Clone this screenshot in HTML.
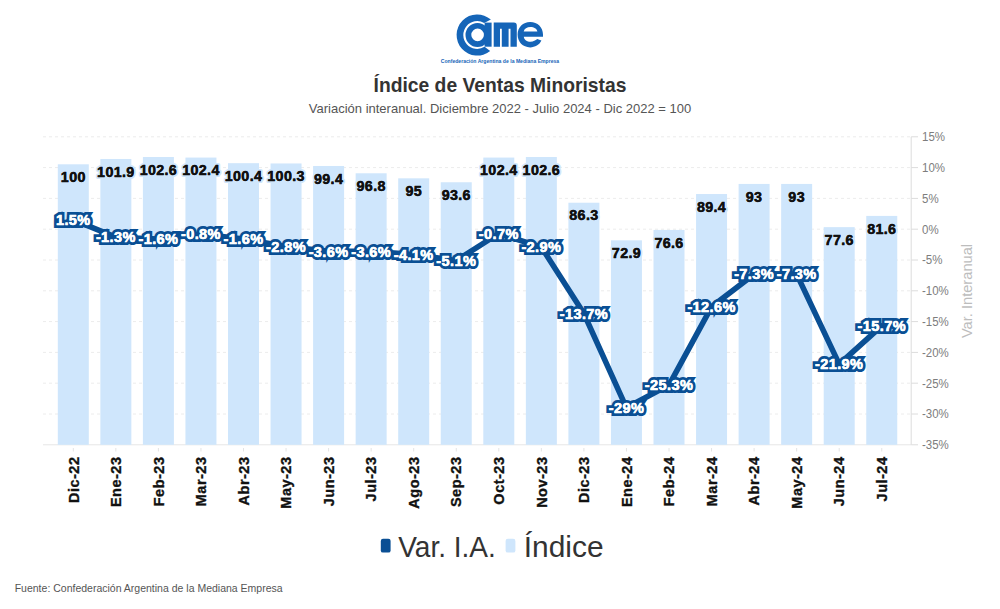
<!DOCTYPE html><html><head><meta charset="utf-8"><style>
html,body{margin:0;padding:0;background:#fff;width:1000px;height:609px;overflow:hidden}
svg{display:block}text{font-family:"Liberation Sans",sans-serif}
</style></head><body>
<svg width="1000" height="609" viewBox="0 0 1000 609">
<rect width="1000" height="609" fill="#fff"/>
<g fill="#1565b8">
<path d="M490.90 19.62 A20.60 20.60 0 1 0 490.16 51.01 L484.57 46.79 A13.90 13.90 0 1 1 484.15 22.96 Z"/>
<path fill-rule="evenodd" d="M465.50 35.10 A12.00 12.00 0 1 0 489.50 35.10 A12.00 12.00 0 1 0 465.50 35.10 Z M471.30 34.90 A6.30 6.30 0 1 0 483.90 34.90 A6.30 6.30 0 1 0 471.30 34.90 Z"/>
<rect x="484.6" y="22.6" width="7.0" height="24.1"/>
<path d="M493.7 22.6 H513.8 Q516.8 22.6 516.8 25.6 V46.7 H510.5 V28.8 H508.6 V46.7 H501.8 V28.8 H500 V46.7 H493.7 Z"/>
<path fill-rule="evenodd" d="M543 36.7 L523.8 36.7 C524.3 40 527 41.7 530.5 41.7 C533.5 41.7 535.5 40.6 537.2 39.1 L541.4 40.6 C539.5 45 535 47.4 530.2 47.4 C522.7 47.4 517.6 42 517.6 34.6 C517.6 27.2 523 21.9 530.2 21.9 C537.6 21.9 543 27.2 543 34.6 Z M523.7 31.4 L537.4 31.4 C536.8 28.5 534 26.9 530.5 26.9 C527 26.9 524.3 28.5 523.7 31.4 Z"/>
</g>
<text x="500" y="63" text-anchor="middle" font-size="5.1" font-weight="bold" fill="#1565b8">Confederación Argentina de la Mediana Empresa</text>
<text x="500" y="92" text-anchor="middle" font-size="19.3" font-weight="bold" fill="#333">Índice de Ventas Minoristas</text>
<text x="500" y="113" text-anchor="middle" font-size="13" fill="#555">Variación interanual. Diciembre 2022 - Julio 2024 - Dic 2022 = 100</text>
<line x1="43" y1="136.80" x2="911" y2="136.80" stroke="#ececec" stroke-width="1" stroke-dasharray="3,3"/>
<line x1="43" y1="167.60" x2="911" y2="167.60" stroke="#ececec" stroke-width="1" stroke-dasharray="3,3"/>
<line x1="43" y1="198.40" x2="911" y2="198.40" stroke="#ececec" stroke-width="1" stroke-dasharray="3,3"/>
<line x1="43" y1="229.20" x2="911" y2="229.20" stroke="#ececec" stroke-width="1" stroke-dasharray="3,3"/>
<line x1="43" y1="260.00" x2="911" y2="260.00" stroke="#ececec" stroke-width="1" stroke-dasharray="3,3"/>
<line x1="43" y1="290.80" x2="911" y2="290.80" stroke="#ececec" stroke-width="1" stroke-dasharray="3,3"/>
<line x1="43" y1="321.60" x2="911" y2="321.60" stroke="#ececec" stroke-width="1" stroke-dasharray="3,3"/>
<line x1="43" y1="352.40" x2="911" y2="352.40" stroke="#ececec" stroke-width="1" stroke-dasharray="3,3"/>
<line x1="43" y1="383.20" x2="911" y2="383.20" stroke="#ececec" stroke-width="1" stroke-dasharray="3,3"/>
<line x1="43" y1="414.00" x2="911" y2="414.00" stroke="#ececec" stroke-width="1" stroke-dasharray="3,3"/>
<line x1="43" y1="444.80" x2="911" y2="444.80" stroke="#e6e6e6" stroke-width="1"/>
<rect x="57.80" y="164.30" width="31.00" height="280.50" fill="#cfe6fc"/>
<rect x="100.35" y="158.97" width="31.00" height="285.83" fill="#cfe6fc"/>
<rect x="142.90" y="157.01" width="31.00" height="287.79" fill="#cfe6fc"/>
<rect x="185.45" y="157.57" width="31.00" height="287.23" fill="#cfe6fc"/>
<rect x="228.00" y="163.18" width="31.00" height="281.62" fill="#cfe6fc"/>
<rect x="270.55" y="163.46" width="31.00" height="281.34" fill="#cfe6fc"/>
<rect x="313.10" y="165.98" width="31.00" height="278.82" fill="#cfe6fc"/>
<rect x="355.65" y="173.28" width="31.00" height="271.52" fill="#cfe6fc"/>
<rect x="398.20" y="178.32" width="31.00" height="266.48" fill="#cfe6fc"/>
<rect x="440.75" y="182.25" width="31.00" height="262.55" fill="#cfe6fc"/>
<rect x="483.30" y="157.57" width="31.00" height="287.23" fill="#cfe6fc"/>
<rect x="525.85" y="157.01" width="31.00" height="287.79" fill="#cfe6fc"/>
<rect x="568.40" y="202.73" width="31.00" height="242.07" fill="#cfe6fc"/>
<rect x="610.95" y="240.32" width="31.00" height="204.48" fill="#cfe6fc"/>
<rect x="653.50" y="229.94" width="31.00" height="214.86" fill="#cfe6fc"/>
<rect x="696.05" y="194.03" width="31.00" height="250.77" fill="#cfe6fc"/>
<rect x="738.60" y="183.94" width="31.00" height="260.87" fill="#cfe6fc"/>
<rect x="781.15" y="183.94" width="31.00" height="260.87" fill="#cfe6fc"/>
<rect x="823.70" y="227.13" width="31.00" height="217.67" fill="#cfe6fc"/>
<rect x="866.25" y="215.91" width="31.00" height="228.89" fill="#cfe6fc"/>
<line x1="911.2" y1="136.8" x2="911.2" y2="444.8" stroke="#dcdcdc" stroke-width="1"/>
<line x1="911.2" y1="136.80" x2="918" y2="136.80" stroke="#dcdcdc" stroke-width="1"/>
<text x="922" y="141.20" font-size="12.3" textLength="23.02" lengthAdjust="spacingAndGlyphs" fill="#7d7d7d">15%</text>
<line x1="911.2" y1="167.60" x2="918" y2="167.60" stroke="#dcdcdc" stroke-width="1"/>
<text x="922" y="172.00" font-size="12.3" textLength="23.02" lengthAdjust="spacingAndGlyphs" fill="#7d7d7d">10%</text>
<line x1="911.2" y1="198.40" x2="918" y2="198.40" stroke="#dcdcdc" stroke-width="1"/>
<text x="922" y="202.80" font-size="12.3" textLength="16.62" lengthAdjust="spacingAndGlyphs" fill="#7d7d7d">5%</text>
<line x1="911.2" y1="229.20" x2="918" y2="229.20" stroke="#dcdcdc" stroke-width="1"/>
<text x="922" y="233.60" font-size="12.3" textLength="16.62" lengthAdjust="spacingAndGlyphs" fill="#7d7d7d">0%</text>
<line x1="911.2" y1="260.00" x2="918" y2="260.00" stroke="#dcdcdc" stroke-width="1"/>
<text x="922" y="264.40" font-size="12.3" textLength="20.45" lengthAdjust="spacingAndGlyphs" fill="#7d7d7d">-5%</text>
<line x1="911.2" y1="290.80" x2="918" y2="290.80" stroke="#dcdcdc" stroke-width="1"/>
<text x="922" y="295.20" font-size="12.3" textLength="26.85" lengthAdjust="spacingAndGlyphs" fill="#7d7d7d">-10%</text>
<line x1="911.2" y1="321.60" x2="918" y2="321.60" stroke="#dcdcdc" stroke-width="1"/>
<text x="922" y="326.00" font-size="12.3" textLength="26.85" lengthAdjust="spacingAndGlyphs" fill="#7d7d7d">-15%</text>
<line x1="911.2" y1="352.40" x2="918" y2="352.40" stroke="#dcdcdc" stroke-width="1"/>
<text x="922" y="356.80" font-size="12.3" textLength="26.85" lengthAdjust="spacingAndGlyphs" fill="#7d7d7d">-20%</text>
<line x1="911.2" y1="383.20" x2="918" y2="383.20" stroke="#dcdcdc" stroke-width="1"/>
<text x="922" y="387.60" font-size="12.3" textLength="26.85" lengthAdjust="spacingAndGlyphs" fill="#7d7d7d">-25%</text>
<line x1="911.2" y1="414.00" x2="918" y2="414.00" stroke="#dcdcdc" stroke-width="1"/>
<text x="922" y="418.40" font-size="12.3" textLength="26.85" lengthAdjust="spacingAndGlyphs" fill="#7d7d7d">-30%</text>
<line x1="911.2" y1="444.80" x2="918" y2="444.80" stroke="#dcdcdc" stroke-width="1"/>
<text x="922" y="449.20" font-size="12.3" textLength="26.85" lengthAdjust="spacingAndGlyphs" fill="#7d7d7d">-35%</text>
<text transform="translate(971.5,291) rotate(-90)" text-anchor="middle" font-size="14.65" fill="#bdbdbd">Var. Interanual</text>
<line x1="73.30" y1="448" x2="73.30" y2="451.5" stroke="#e4e4e4" stroke-width="1"/>
<text transform="translate(78.50,456.5) rotate(-90)" text-anchor="end" font-size="14.5" font-weight="bold" letter-spacing="0.5" fill="#111" stroke="#111" stroke-width="0.35">Dic-22</text>
<line x1="115.85" y1="448" x2="115.85" y2="451.5" stroke="#e4e4e4" stroke-width="1"/>
<text transform="translate(121.05,456.5) rotate(-90)" text-anchor="end" font-size="14.5" font-weight="bold" letter-spacing="0.5" fill="#111" stroke="#111" stroke-width="0.35">Ene-23</text>
<line x1="158.40" y1="448" x2="158.40" y2="451.5" stroke="#e4e4e4" stroke-width="1"/>
<text transform="translate(163.60,456.5) rotate(-90)" text-anchor="end" font-size="14.5" font-weight="bold" letter-spacing="0.5" fill="#111" stroke="#111" stroke-width="0.35">Feb-23</text>
<line x1="200.95" y1="448" x2="200.95" y2="451.5" stroke="#e4e4e4" stroke-width="1"/>
<text transform="translate(206.15,456.5) rotate(-90)" text-anchor="end" font-size="14.5" font-weight="bold" letter-spacing="0.5" fill="#111" stroke="#111" stroke-width="0.35">Mar-23</text>
<line x1="243.50" y1="448" x2="243.50" y2="451.5" stroke="#e4e4e4" stroke-width="1"/>
<text transform="translate(248.70,456.5) rotate(-90)" text-anchor="end" font-size="14.5" font-weight="bold" letter-spacing="0.5" fill="#111" stroke="#111" stroke-width="0.35">Abr-23</text>
<line x1="286.05" y1="448" x2="286.05" y2="451.5" stroke="#e4e4e4" stroke-width="1"/>
<text transform="translate(291.25,456.5) rotate(-90)" text-anchor="end" font-size="14.5" font-weight="bold" letter-spacing="0.5" fill="#111" stroke="#111" stroke-width="0.35">May-23</text>
<line x1="328.60" y1="448" x2="328.60" y2="451.5" stroke="#e4e4e4" stroke-width="1"/>
<text transform="translate(333.80,456.5) rotate(-90)" text-anchor="end" font-size="14.5" font-weight="bold" letter-spacing="0.5" fill="#111" stroke="#111" stroke-width="0.35">Jun-23</text>
<line x1="371.15" y1="448" x2="371.15" y2="451.5" stroke="#e4e4e4" stroke-width="1"/>
<text transform="translate(376.35,456.5) rotate(-90)" text-anchor="end" font-size="14.5" font-weight="bold" letter-spacing="0.5" fill="#111" stroke="#111" stroke-width="0.35">Jul-23</text>
<line x1="413.70" y1="448" x2="413.70" y2="451.5" stroke="#e4e4e4" stroke-width="1"/>
<text transform="translate(418.90,456.5) rotate(-90)" text-anchor="end" font-size="14.5" font-weight="bold" letter-spacing="0.5" fill="#111" stroke="#111" stroke-width="0.35">Ago-23</text>
<line x1="456.25" y1="448" x2="456.25" y2="451.5" stroke="#e4e4e4" stroke-width="1"/>
<text transform="translate(461.45,456.5) rotate(-90)" text-anchor="end" font-size="14.5" font-weight="bold" letter-spacing="0.5" fill="#111" stroke="#111" stroke-width="0.35">Sep-23</text>
<line x1="498.80" y1="448" x2="498.80" y2="451.5" stroke="#e4e4e4" stroke-width="1"/>
<text transform="translate(504.00,456.5) rotate(-90)" text-anchor="end" font-size="14.5" font-weight="bold" letter-spacing="0.5" fill="#111" stroke="#111" stroke-width="0.35">Oct-23</text>
<line x1="541.35" y1="448" x2="541.35" y2="451.5" stroke="#e4e4e4" stroke-width="1"/>
<text transform="translate(546.55,456.5) rotate(-90)" text-anchor="end" font-size="14.5" font-weight="bold" letter-spacing="0.5" fill="#111" stroke="#111" stroke-width="0.35">Nov-23</text>
<line x1="583.90" y1="448" x2="583.90" y2="451.5" stroke="#e4e4e4" stroke-width="1"/>
<text transform="translate(589.10,456.5) rotate(-90)" text-anchor="end" font-size="14.5" font-weight="bold" letter-spacing="0.5" fill="#111" stroke="#111" stroke-width="0.35">Dic-23</text>
<line x1="626.45" y1="448" x2="626.45" y2="451.5" stroke="#e4e4e4" stroke-width="1"/>
<text transform="translate(631.65,456.5) rotate(-90)" text-anchor="end" font-size="14.5" font-weight="bold" letter-spacing="0.5" fill="#111" stroke="#111" stroke-width="0.35">Ene-24</text>
<line x1="669.00" y1="448" x2="669.00" y2="451.5" stroke="#e4e4e4" stroke-width="1"/>
<text transform="translate(674.20,456.5) rotate(-90)" text-anchor="end" font-size="14.5" font-weight="bold" letter-spacing="0.5" fill="#111" stroke="#111" stroke-width="0.35">Feb-24</text>
<line x1="711.55" y1="448" x2="711.55" y2="451.5" stroke="#e4e4e4" stroke-width="1"/>
<text transform="translate(716.75,456.5) rotate(-90)" text-anchor="end" font-size="14.5" font-weight="bold" letter-spacing="0.5" fill="#111" stroke="#111" stroke-width="0.35">Mar-24</text>
<line x1="754.10" y1="448" x2="754.10" y2="451.5" stroke="#e4e4e4" stroke-width="1"/>
<text transform="translate(759.30,456.5) rotate(-90)" text-anchor="end" font-size="14.5" font-weight="bold" letter-spacing="0.5" fill="#111" stroke="#111" stroke-width="0.35">Abr-24</text>
<line x1="796.65" y1="448" x2="796.65" y2="451.5" stroke="#e4e4e4" stroke-width="1"/>
<text transform="translate(801.85,456.5) rotate(-90)" text-anchor="end" font-size="14.5" font-weight="bold" letter-spacing="0.5" fill="#111" stroke="#111" stroke-width="0.35">May-24</text>
<line x1="839.20" y1="448" x2="839.20" y2="451.5" stroke="#e4e4e4" stroke-width="1"/>
<text transform="translate(844.40,456.5) rotate(-90)" text-anchor="end" font-size="14.5" font-weight="bold" letter-spacing="0.5" fill="#111" stroke="#111" stroke-width="0.35">Jun-24</text>
<line x1="881.75" y1="448" x2="881.75" y2="451.5" stroke="#e4e4e4" stroke-width="1"/>
<text transform="translate(886.95,456.5) rotate(-90)" text-anchor="end" font-size="14.5" font-weight="bold" letter-spacing="0.5" fill="#111" stroke="#111" stroke-width="0.35">Jul-24</text>
<text x="73.30" y="181.90" text-anchor="middle" font-size="14.3" font-weight="bold" letter-spacing="0.35" fill="#111" stroke="#cfe6fc" stroke-width="4" stroke-linejoin="round" paint-order="stroke">100</text>
<text x="73.30" y="181.90" text-anchor="middle" font-size="14.3" font-weight="bold" letter-spacing="0.35" fill="#111" stroke="#111" stroke-width="0.35">100</text>
<text x="115.85" y="176.57" text-anchor="middle" font-size="14.3" font-weight="bold" letter-spacing="0.35" fill="#111" stroke="#cfe6fc" stroke-width="4" stroke-linejoin="round" paint-order="stroke">101.9</text>
<text x="115.85" y="176.57" text-anchor="middle" font-size="14.3" font-weight="bold" letter-spacing="0.35" fill="#111" stroke="#111" stroke-width="0.35">101.9</text>
<text x="158.40" y="174.61" text-anchor="middle" font-size="14.3" font-weight="bold" letter-spacing="0.35" fill="#111" stroke="#cfe6fc" stroke-width="4" stroke-linejoin="round" paint-order="stroke">102.6</text>
<text x="158.40" y="174.61" text-anchor="middle" font-size="14.3" font-weight="bold" letter-spacing="0.35" fill="#111" stroke="#111" stroke-width="0.35">102.6</text>
<text x="200.95" y="175.17" text-anchor="middle" font-size="14.3" font-weight="bold" letter-spacing="0.35" fill="#111" stroke="#cfe6fc" stroke-width="4" stroke-linejoin="round" paint-order="stroke">102.4</text>
<text x="200.95" y="175.17" text-anchor="middle" font-size="14.3" font-weight="bold" letter-spacing="0.35" fill="#111" stroke="#111" stroke-width="0.35">102.4</text>
<text x="243.50" y="180.78" text-anchor="middle" font-size="14.3" font-weight="bold" letter-spacing="0.35" fill="#111" stroke="#cfe6fc" stroke-width="4" stroke-linejoin="round" paint-order="stroke">100.4</text>
<text x="243.50" y="180.78" text-anchor="middle" font-size="14.3" font-weight="bold" letter-spacing="0.35" fill="#111" stroke="#111" stroke-width="0.35">100.4</text>
<text x="286.05" y="181.06" text-anchor="middle" font-size="14.3" font-weight="bold" letter-spacing="0.35" fill="#111" stroke="#cfe6fc" stroke-width="4" stroke-linejoin="round" paint-order="stroke">100.3</text>
<text x="286.05" y="181.06" text-anchor="middle" font-size="14.3" font-weight="bold" letter-spacing="0.35" fill="#111" stroke="#111" stroke-width="0.35">100.3</text>
<text x="328.60" y="183.58" text-anchor="middle" font-size="14.3" font-weight="bold" letter-spacing="0.35" fill="#111" stroke="#cfe6fc" stroke-width="4" stroke-linejoin="round" paint-order="stroke">99.4</text>
<text x="328.60" y="183.58" text-anchor="middle" font-size="14.3" font-weight="bold" letter-spacing="0.35" fill="#111" stroke="#111" stroke-width="0.35">99.4</text>
<text x="371.15" y="190.88" text-anchor="middle" font-size="14.3" font-weight="bold" letter-spacing="0.35" fill="#111" stroke="#cfe6fc" stroke-width="4" stroke-linejoin="round" paint-order="stroke">96.8</text>
<text x="371.15" y="190.88" text-anchor="middle" font-size="14.3" font-weight="bold" letter-spacing="0.35" fill="#111" stroke="#111" stroke-width="0.35">96.8</text>
<text x="413.70" y="195.92" text-anchor="middle" font-size="14.3" font-weight="bold" letter-spacing="0.35" fill="#111" stroke="#cfe6fc" stroke-width="4" stroke-linejoin="round" paint-order="stroke">95</text>
<text x="413.70" y="195.92" text-anchor="middle" font-size="14.3" font-weight="bold" letter-spacing="0.35" fill="#111" stroke="#111" stroke-width="0.35">95</text>
<text x="456.25" y="199.85" text-anchor="middle" font-size="14.3" font-weight="bold" letter-spacing="0.35" fill="#111" stroke="#cfe6fc" stroke-width="4" stroke-linejoin="round" paint-order="stroke">93.6</text>
<text x="456.25" y="199.85" text-anchor="middle" font-size="14.3" font-weight="bold" letter-spacing="0.35" fill="#111" stroke="#111" stroke-width="0.35">93.6</text>
<text x="498.80" y="175.17" text-anchor="middle" font-size="14.3" font-weight="bold" letter-spacing="0.35" fill="#111" stroke="#cfe6fc" stroke-width="4" stroke-linejoin="round" paint-order="stroke">102.4</text>
<text x="498.80" y="175.17" text-anchor="middle" font-size="14.3" font-weight="bold" letter-spacing="0.35" fill="#111" stroke="#111" stroke-width="0.35">102.4</text>
<text x="541.35" y="174.61" text-anchor="middle" font-size="14.3" font-weight="bold" letter-spacing="0.35" fill="#111" stroke="#cfe6fc" stroke-width="4" stroke-linejoin="round" paint-order="stroke">102.6</text>
<text x="541.35" y="174.61" text-anchor="middle" font-size="14.3" font-weight="bold" letter-spacing="0.35" fill="#111" stroke="#111" stroke-width="0.35">102.6</text>
<text x="583.90" y="220.33" text-anchor="middle" font-size="14.3" font-weight="bold" letter-spacing="0.35" fill="#111" stroke="#cfe6fc" stroke-width="4" stroke-linejoin="round" paint-order="stroke">86.3</text>
<text x="583.90" y="220.33" text-anchor="middle" font-size="14.3" font-weight="bold" letter-spacing="0.35" fill="#111" stroke="#111" stroke-width="0.35">86.3</text>
<text x="626.45" y="257.92" text-anchor="middle" font-size="14.3" font-weight="bold" letter-spacing="0.35" fill="#111" stroke="#cfe6fc" stroke-width="4" stroke-linejoin="round" paint-order="stroke">72.9</text>
<text x="626.45" y="257.92" text-anchor="middle" font-size="14.3" font-weight="bold" letter-spacing="0.35" fill="#111" stroke="#111" stroke-width="0.35">72.9</text>
<text x="669.00" y="247.54" text-anchor="middle" font-size="14.3" font-weight="bold" letter-spacing="0.35" fill="#111" stroke="#cfe6fc" stroke-width="4" stroke-linejoin="round" paint-order="stroke">76.6</text>
<text x="669.00" y="247.54" text-anchor="middle" font-size="14.3" font-weight="bold" letter-spacing="0.35" fill="#111" stroke="#111" stroke-width="0.35">76.6</text>
<text x="711.55" y="211.63" text-anchor="middle" font-size="14.3" font-weight="bold" letter-spacing="0.35" fill="#111" stroke="#cfe6fc" stroke-width="4" stroke-linejoin="round" paint-order="stroke">89.4</text>
<text x="711.55" y="211.63" text-anchor="middle" font-size="14.3" font-weight="bold" letter-spacing="0.35" fill="#111" stroke="#111" stroke-width="0.35">89.4</text>
<text x="754.10" y="201.53" text-anchor="middle" font-size="14.3" font-weight="bold" letter-spacing="0.35" fill="#111" stroke="#cfe6fc" stroke-width="4" stroke-linejoin="round" paint-order="stroke">93</text>
<text x="754.10" y="201.53" text-anchor="middle" font-size="14.3" font-weight="bold" letter-spacing="0.35" fill="#111" stroke="#111" stroke-width="0.35">93</text>
<text x="796.65" y="201.53" text-anchor="middle" font-size="14.3" font-weight="bold" letter-spacing="0.35" fill="#111" stroke="#cfe6fc" stroke-width="4" stroke-linejoin="round" paint-order="stroke">93</text>
<text x="796.65" y="201.53" text-anchor="middle" font-size="14.3" font-weight="bold" letter-spacing="0.35" fill="#111" stroke="#111" stroke-width="0.35">93</text>
<text x="839.20" y="244.73" text-anchor="middle" font-size="14.3" font-weight="bold" letter-spacing="0.35" fill="#111" stroke="#cfe6fc" stroke-width="4" stroke-linejoin="round" paint-order="stroke">77.6</text>
<text x="839.20" y="244.73" text-anchor="middle" font-size="14.3" font-weight="bold" letter-spacing="0.35" fill="#111" stroke="#111" stroke-width="0.35">77.6</text>
<text x="881.75" y="233.51" text-anchor="middle" font-size="14.3" font-weight="bold" letter-spacing="0.35" fill="#111" stroke="#cfe6fc" stroke-width="4" stroke-linejoin="round" paint-order="stroke">81.6</text>
<text x="881.75" y="233.51" text-anchor="middle" font-size="14.3" font-weight="bold" letter-spacing="0.35" fill="#111" stroke="#111" stroke-width="0.35">81.6</text>
<polyline points="73.30,219.96 115.85,237.21 158.40,239.06 200.95,234.13 243.50,239.06 286.05,246.45 328.60,251.38 371.15,251.38 413.70,254.46 456.25,260.62 498.80,233.51 541.35,247.06 583.90,313.59 626.45,407.84 669.00,385.05 711.55,306.82 754.10,274.17 796.65,274.17 839.20,364.10 881.75,325.91" fill="none" stroke="#0a4f94" stroke-width="5.6" stroke-linejoin="round" stroke-linecap="round"/>
<text x="73.30" y="225.16" text-anchor="middle" font-size="14.5" font-weight="bold" letter-spacing="0.4" fill="#fff" stroke="#0a4f94" stroke-width="6" stroke-linejoin="miter" paint-order="stroke">1.5%</text>
<text x="73.30" y="225.16" text-anchor="middle" font-size="14.5" font-weight="bold" letter-spacing="0.4" fill="#fff" stroke="#fff" stroke-width="0.45">1.5%</text>
<text x="115.85" y="242.41" text-anchor="middle" font-size="14.5" font-weight="bold" letter-spacing="0.4" fill="#fff" stroke="#0a4f94" stroke-width="6" stroke-linejoin="miter" paint-order="stroke">-1.3%</text>
<text x="115.85" y="242.41" text-anchor="middle" font-size="14.5" font-weight="bold" letter-spacing="0.4" fill="#fff" stroke="#fff" stroke-width="0.45">-1.3%</text>
<text x="158.40" y="244.26" text-anchor="middle" font-size="14.5" font-weight="bold" letter-spacing="0.4" fill="#fff" stroke="#0a4f94" stroke-width="6" stroke-linejoin="miter" paint-order="stroke">-1.6%</text>
<text x="158.40" y="244.26" text-anchor="middle" font-size="14.5" font-weight="bold" letter-spacing="0.4" fill="#fff" stroke="#fff" stroke-width="0.45">-1.6%</text>
<text x="200.95" y="239.33" text-anchor="middle" font-size="14.5" font-weight="bold" letter-spacing="0.4" fill="#fff" stroke="#0a4f94" stroke-width="6" stroke-linejoin="miter" paint-order="stroke">-0.8%</text>
<text x="200.95" y="239.33" text-anchor="middle" font-size="14.5" font-weight="bold" letter-spacing="0.4" fill="#fff" stroke="#fff" stroke-width="0.45">-0.8%</text>
<text x="243.50" y="244.26" text-anchor="middle" font-size="14.5" font-weight="bold" letter-spacing="0.4" fill="#fff" stroke="#0a4f94" stroke-width="6" stroke-linejoin="miter" paint-order="stroke">-1.6%</text>
<text x="243.50" y="244.26" text-anchor="middle" font-size="14.5" font-weight="bold" letter-spacing="0.4" fill="#fff" stroke="#fff" stroke-width="0.45">-1.6%</text>
<text x="286.05" y="251.65" text-anchor="middle" font-size="14.5" font-weight="bold" letter-spacing="0.4" fill="#fff" stroke="#0a4f94" stroke-width="6" stroke-linejoin="miter" paint-order="stroke">-2.8%</text>
<text x="286.05" y="251.65" text-anchor="middle" font-size="14.5" font-weight="bold" letter-spacing="0.4" fill="#fff" stroke="#fff" stroke-width="0.45">-2.8%</text>
<text x="328.60" y="256.58" text-anchor="middle" font-size="14.5" font-weight="bold" letter-spacing="0.4" fill="#fff" stroke="#0a4f94" stroke-width="6" stroke-linejoin="miter" paint-order="stroke">-3.6%</text>
<text x="328.60" y="256.58" text-anchor="middle" font-size="14.5" font-weight="bold" letter-spacing="0.4" fill="#fff" stroke="#fff" stroke-width="0.45">-3.6%</text>
<text x="371.15" y="256.58" text-anchor="middle" font-size="14.5" font-weight="bold" letter-spacing="0.4" fill="#fff" stroke="#0a4f94" stroke-width="6" stroke-linejoin="miter" paint-order="stroke">-3.6%</text>
<text x="371.15" y="256.58" text-anchor="middle" font-size="14.5" font-weight="bold" letter-spacing="0.4" fill="#fff" stroke="#fff" stroke-width="0.45">-3.6%</text>
<text x="413.70" y="259.66" text-anchor="middle" font-size="14.5" font-weight="bold" letter-spacing="0.4" fill="#fff" stroke="#0a4f94" stroke-width="6" stroke-linejoin="miter" paint-order="stroke">-4.1%</text>
<text x="413.70" y="259.66" text-anchor="middle" font-size="14.5" font-weight="bold" letter-spacing="0.4" fill="#fff" stroke="#fff" stroke-width="0.45">-4.1%</text>
<text x="456.25" y="265.82" text-anchor="middle" font-size="14.5" font-weight="bold" letter-spacing="0.4" fill="#fff" stroke="#0a4f94" stroke-width="6" stroke-linejoin="miter" paint-order="stroke">-5.1%</text>
<text x="456.25" y="265.82" text-anchor="middle" font-size="14.5" font-weight="bold" letter-spacing="0.4" fill="#fff" stroke="#fff" stroke-width="0.45">-5.1%</text>
<text x="498.80" y="238.71" text-anchor="middle" font-size="14.5" font-weight="bold" letter-spacing="0.4" fill="#fff" stroke="#0a4f94" stroke-width="6" stroke-linejoin="miter" paint-order="stroke">-0.7%</text>
<text x="498.80" y="238.71" text-anchor="middle" font-size="14.5" font-weight="bold" letter-spacing="0.4" fill="#fff" stroke="#fff" stroke-width="0.45">-0.7%</text>
<text x="541.35" y="252.26" text-anchor="middle" font-size="14.5" font-weight="bold" letter-spacing="0.4" fill="#fff" stroke="#0a4f94" stroke-width="6" stroke-linejoin="miter" paint-order="stroke">-2.9%</text>
<text x="541.35" y="252.26" text-anchor="middle" font-size="14.5" font-weight="bold" letter-spacing="0.4" fill="#fff" stroke="#fff" stroke-width="0.45">-2.9%</text>
<text x="583.90" y="318.79" text-anchor="middle" font-size="14.5" font-weight="bold" letter-spacing="0.4" fill="#fff" stroke="#0a4f94" stroke-width="6" stroke-linejoin="miter" paint-order="stroke">-13.7%</text>
<text x="583.90" y="318.79" text-anchor="middle" font-size="14.5" font-weight="bold" letter-spacing="0.4" fill="#fff" stroke="#fff" stroke-width="0.45">-13.7%</text>
<text x="626.45" y="413.04" text-anchor="middle" font-size="14.5" font-weight="bold" letter-spacing="0.4" fill="#fff" stroke="#0a4f94" stroke-width="6" stroke-linejoin="miter" paint-order="stroke">-29%</text>
<text x="626.45" y="413.04" text-anchor="middle" font-size="14.5" font-weight="bold" letter-spacing="0.4" fill="#fff" stroke="#fff" stroke-width="0.45">-29%</text>
<text x="669.00" y="390.25" text-anchor="middle" font-size="14.5" font-weight="bold" letter-spacing="0.4" fill="#fff" stroke="#0a4f94" stroke-width="6" stroke-linejoin="miter" paint-order="stroke">-25.3%</text>
<text x="669.00" y="390.25" text-anchor="middle" font-size="14.5" font-weight="bold" letter-spacing="0.4" fill="#fff" stroke="#fff" stroke-width="0.45">-25.3%</text>
<text x="711.55" y="312.02" text-anchor="middle" font-size="14.5" font-weight="bold" letter-spacing="0.4" fill="#fff" stroke="#0a4f94" stroke-width="6" stroke-linejoin="miter" paint-order="stroke">-12.6%</text>
<text x="711.55" y="312.02" text-anchor="middle" font-size="14.5" font-weight="bold" letter-spacing="0.4" fill="#fff" stroke="#fff" stroke-width="0.45">-12.6%</text>
<text x="754.10" y="279.37" text-anchor="middle" font-size="14.5" font-weight="bold" letter-spacing="0.4" fill="#fff" stroke="#0a4f94" stroke-width="6" stroke-linejoin="miter" paint-order="stroke">-7.3%</text>
<text x="754.10" y="279.37" text-anchor="middle" font-size="14.5" font-weight="bold" letter-spacing="0.4" fill="#fff" stroke="#fff" stroke-width="0.45">-7.3%</text>
<text x="796.65" y="279.37" text-anchor="middle" font-size="14.5" font-weight="bold" letter-spacing="0.4" fill="#fff" stroke="#0a4f94" stroke-width="6" stroke-linejoin="miter" paint-order="stroke">-7.3%</text>
<text x="796.65" y="279.37" text-anchor="middle" font-size="14.5" font-weight="bold" letter-spacing="0.4" fill="#fff" stroke="#fff" stroke-width="0.45">-7.3%</text>
<text x="839.20" y="369.30" text-anchor="middle" font-size="14.5" font-weight="bold" letter-spacing="0.4" fill="#fff" stroke="#0a4f94" stroke-width="6" stroke-linejoin="miter" paint-order="stroke">-21.9%</text>
<text x="839.20" y="369.30" text-anchor="middle" font-size="14.5" font-weight="bold" letter-spacing="0.4" fill="#fff" stroke="#fff" stroke-width="0.45">-21.9%</text>
<text x="881.75" y="331.11" text-anchor="middle" font-size="14.5" font-weight="bold" letter-spacing="0.4" fill="#fff" stroke="#0a4f94" stroke-width="6" stroke-linejoin="miter" paint-order="stroke">-15.7%</text>
<text x="881.75" y="331.11" text-anchor="middle" font-size="14.5" font-weight="bold" letter-spacing="0.4" fill="#fff" stroke="#fff" stroke-width="0.45">-15.7%</text>
<rect x="380.8" y="538.8" width="9.8" height="13.8" rx="2.2" fill="#0a4f94"/>
<text x="398.2" y="556.6" font-size="29.6" textLength="97.6" lengthAdjust="spacingAndGlyphs" fill="#333">Var. I.A.</text>
<rect x="505.6" y="538.8" width="9.8" height="13.8" rx="2.2" fill="#cfe6fc"/>
<text x="523.8" y="556.6" font-size="29.6" textLength="79.8" lengthAdjust="spacingAndGlyphs" fill="#333">Índice</text>
<text x="14.7" y="591.75" font-size="10.5" fill="#555">Fuente: Confederación Argentina de la Mediana Empresa</text>
</svg></body></html>
